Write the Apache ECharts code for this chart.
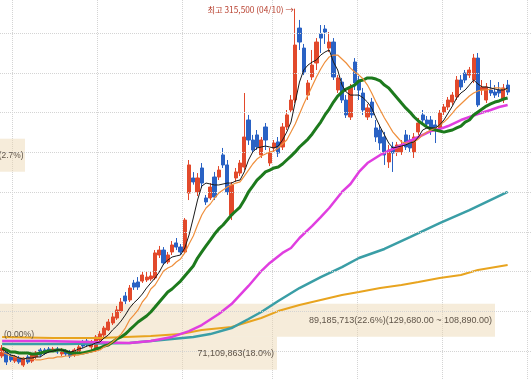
<!DOCTYPE html>
<html><head><meta charset="utf-8">
<script src="https://cdn.jsdelivr.net/npm/echarts/dist/echarts.min.js"></script>
<style>html,body{margin:0;padding:0;background:#fff}#c{width:531px;height:380px}</style>
</head><body><div id="c"></div>
<script>
// ---- data (prices in KRW) ----
const slotCount = 125; // trading-day slots on the x axis (last few empty)
const dayLabels = Array.from({length: slotCount}, (_, i) => 'D' + (i + 1));
const monthStartSlots = [3, 23, 43, 64, 84, 104, 124];
const priceGridLevels = [100000, 125000, 150000, 175000, 200000, 225000, 250000, 275000, 300000];
const visibleMax = 320970, visibleMin = 81684; // price range of the visible window

const opens = [96800,99300,96800,93600,95500,91100,96200,93600,96200,100600,
100600,101200,99900,101200,98100,99900,99300,97400,99300,105600,
106200,102500,100600,106900,110000,113200,117600,120700,125100,134600,
132100,142800,143400,144000,144700,145300,145900,160400,163500,156000,
162300,168000,165400,162300,199400,208900,200100,215200,196300,196300,
209500,209500,223400,217100,185600,208900,212000,215800,245400,232800,
236000,223400,241000,218300,227800,231600,228400,241000,251700,258000,
303300,290700,261100,272500,281300,299600,302700,290700,294500,264300,
269300,258000,247300,281900,270600,262400,247300,256700,240400,239100,
234700,219000,228400,225300,225300,236000,232800,225300,237900,248600,
245400,245400,242300,240400,250400,253600,256700,259900,270600,275000,
273700,270600,284400,264300,258000,264300,263000,264300,258000,267400];
const closes = [101800,93000,94300,96200,93000,94900,93000,97400,98700,97400,
98700,99900,101200,99300,100600,98100,96800,100600,102500,103100,
103700,105600,108800,110700,114400,118200,121400,125800,130800,131400,
139600,140200,140200,147800,146500,147200,161700,163500,155400,160400,
166700,165400,162300,182400,217100,206400,208900,205700,193800,203200,
196900,213900,217100,200100,204500,212700,218300,234700,232800,226500,
228400,232800,232800,224600,230900,224600,241000,248600,258000,292600,
294500,275600,268700,280000,294500,297000,300800,294500,272500,271900,
258000,248600,266200,268700,264300,251700,253000,248600,234700,230900,
223400,226500,224600,229700,229700,228400,227800,234700,243500,245400,
242900,239100,240400,249800,253600,258000,261100,270600,266200,270600,
276900,284400,254900,266200,266200,262400,261100,262400,265600,263000];
const lows = [95500,91100,93000,92400,91800,89900,91800,92400,94900,96200,
97400,98700,99300,98100,96800,96800,95500,96200,98100,101800,
102500,100600,99300,105600,108800,112500,116300,119500,123900,129500,
130800,138400,138400,142800,143400,144000,144700,158500,154100,154700,
160400,163500,160400,161000,195000,204700,197500,202600,191900,195000,
195000,207600,215200,198200,182400,206400,210100,213900,229700,224600,
226500,221500,226500,216400,225300,222100,226500,239100,249800,256100,
289500,273700,258000,270600,276900,287600,293300,288200,270600,262400,
256100,246700,245400,264300,258000,248600,245400,246700,231600,226500,
217100,215200,212700,222700,223400,226500,225300,221500,236000,243000,
241000,236000,230900,237900,248600,251700,254900,258000,264300,268700,
271900,268700,253600,261100,256100,260500,259300,259900,256100,261100];
const highs = [103700,100600,98100,97400,96800,96200,97400,98700,99900,101800,
101800,102500,102500,102500,101800,101200,100600,101800,103700,106900,
107500,106900,110000,112500,115700,120100,123900,128300,133300,137100,
141500,144700,146500,150300,149700,149700,163500,166100,165400,162300,
169200,171100,167300,183700,220200,212600,212000,218300,198200,205700,
212700,216400,227800,220200,206400,215200,220200,262400,248600,236000,
239100,234700,243500,227800,232800,234700,243500,251700,261100,315500,
308400,293300,270600,289500,297000,305200,305200,300800,297000,273700,
271900,261100,268100,284400,273100,265600,255500,259300,245400,242300,
237900,229700,231600,231600,232800,239100,236000,237200,246700,251700,
247900,247900,245400,251700,255500,259900,263000,273100,273700,276900,
278800,287000,287600,270600,268700,270600,267400,269300,268100,270600];

const ma5 = [101200,99300,97400,96800,95500,94900,95500,95500,96200,96200,
98100,99300,99900,100600,100600,99900,99300,99900,101200,101800,
103100,103700,105000,105600,108100,110000,113200,115700,118800,122600,
127000,130200,132700,135800,139600,142800,145900,149700,154700,157200,
159100,159800,160400,164800,173000,183700,195000,203800,205700,205100,
204500,204500,205100,205700,205700,207000,207600,212700,220200,225300,
227800,228400,229000,228400,227800,229000,232800,237800,244100,256700,
269300,276900,280000,281900,283200,286300,288200,289500,281900,276900,
267400,263000,261100,261100,261100,259300,256700,253000,246700,241000,
236000,230900,227800,228400,229000,229700,230900,231600,234700,239100,
240400,240400,240400,242300,245400,249800,254200,259300,262400,264300,
267400,270600,268100,266200,266200,265600,264900,264300,264300,265600];
const ma10 = [99300,98100,96800,96200,95500,95500,94900,94900,94300,94300,
94900,95500,95500,96200,96200,96800,96800,97400,97400,98100,
98700,99300,99900,100600,102500,103700,105600,108100,110600,114400,
119500,122600,125800,130800,134000,139000,141500,145900,150300,152200,
153500,156000,157900,161700,167300,172400,179300,185600,190000,192500,
196300,199400,201300,203200,204500,205700,206400,210100,213900,217700,
220800,222700,224000,225300,225900,227800,230300,232800,237800,242900,
249200,255500,261100,266800,272500,277500,281900,285100,286300,286300,
283800,281300,278100,275600,273700,271200,267400,262400,256700,251700,
246700,242300,237800,234700,231600,230900,230900,231600,233400,236000,
237800,239100,240400,242300,244100,246700,249800,253000,255500,258000,
260500,262400,263700,264300,264300,264900,265600,265600,264900,264300];
const ma20 = [101800,100600,99300,99300,98700,98700,98700,98100,98100,98700,
99300,99900,99900,100600,100600,99900,98700,98700,98700,98700,
99300,99900,101200,101800,103100,103700,105600,107500,108800,110600,
113200,115700,118200,120100,122000,124500,127600,130800,134000,137100,
139000,141500,144000,147200,150300,153500,158500,162300,166100,169800,
173600,176800,179300,182400,185600,188100,190600,195000,200100,203800,
207600,210100,212700,213900,215200,215800,217700,220200,222700,225300,
228400,230900,233400,236600,240400,244100,248600,252300,256700,260500,
263000,264900,266200,267400,270000,270600,271900,271900,271200,270000,
267400,265600,262400,259300,256100,253000,250400,247300,244800,242900,
241000,239700,239100,238500,237800,238500,239100,240400,241600,244100,
245400,248600,250400,252300,254200,255500,256700,257400,258600,259300];
// long averages, read at selected days: [slot index], [price]
const ma60Days = [0,10,20,30,35,40,44,47,51,54,58,61,63,66,68,70,73,75,77,80,82,84,86,89,91,93,96,98,101,103,105,108,110,112,115,117,119];
const ma60Vals = [106200,106200,105600,105000,106200,108800,112500,116300,123200,129500,140900,150300,155400,161700,164800,171100,178700,184300,190000,200100,205100,212700,218300,223400,225900,228400,232200,234700,238500,239700,241600,245400,247300,249200,251700,253600,254900];
const ma120Days = [0,15,30,35,40,45,49,54,58,61,65,70,75,80,84,90,96,103,110,119];
const ma120Vals = [104400,104400,105000,106200,107500,108800,110600,114400,120100,124500,131400,139600,146500,152800,158500,164200,171700,180500,188700,200100];
const ma240Days = [0,12,23,35,42,47,54,61,65,70,75,80,84,89,94,98,103,108,112,119];
const ma240Vals = [108800,108100,108100,109400,110600,113200,115100,120700,125100,128900,132100,135200,137100,139600,141500,143400,145900,147800,150900,154100];

// volume-at-price bands
const bandLow  = [212840, 108890, 88100];
const bandHigh = [233630, 129680, 108890];
const bandText = ['(2.7%)', '89,185,713(22.6%)(129,680.00 ~ 108,890.00)', '71,109,863(18.0%)'];
const zeroBandText = '(0.00%)';
const zeroBandPrice = 110400;
const highIndex = 69, highPrice = 315500;
const highText = '최고 315,500 (04/10) →';

// ---- chart ----
const chart = echarts.init(document.getElementById('c'), null, {renderer: 'canvas'});
const candleData = opens.map((o, i) => [o, closes[i], lows[i], highs[i]]);
const pairs = (d, v) => d.map((x, k) => [x, v[k]]);
const line = (data, color, width, z) => ({
  type: 'line', data, symbol: 'none', silent: true, z,
  lineStyle: {color, width}, itemStyle: {color}
});
const gridLineStyle = {color: '#d4d4d4', type: 'dotted', width: 1};

chart.setOption({
  animation: false,
  backgroundColor: '#ffffff',
  grid: {left: 0, right: 0, top: 0, bottom: 0, containLabel: false},
  xAxis: {
    type: 'category', data: dayLabels, boundaryGap: true,
    axisLine: {show: false}, axisTick: {show: false}, axisLabel: {show: false},
    splitLine: {show: true, interval: (idx) => monthStartSlots.includes(idx), lineStyle: gridLineStyle}
  },
  yAxis: {
    type: 'value', min: visibleMin, max: visibleMax,
    axisLine: {show: false}, axisTick: {show: false}, axisLabel: {show: false},
    splitLine: {show: false}
  },
  series: [
    {
      type: 'line', data: [], z: 1, silent: true, symbol: 'none',
      markLine: {
        silent: true, symbol: ['none', 'none'], label: {show: false},
        lineStyle: gridLineStyle, animation: false,
        data: priceGridLevels.map(v => ({yAxis: v}))
      }
    },
    {
      type: 'candlestick', data: candleData, barWidth: 3.6, z: 3,
      itemStyle: {color: '#e2492b', color0: '#2a62c4', borderColor: '#e2492b', borderColor0: '#2a62c4', borderWidth: 1},
      markPoint: {
        symbol: 'circle', symbolSize: 1, silent: true,
        itemStyle: {color: 'rgba(0,0,0,0)'},
        data: [{coord: [highIndex, highPrice], value: highPrice}],
        label: {show: true, position: 'left', distance: 1, offset: [0, 1.5], formatter: highText,
          color: '#b8402f', fontSize: 8.3, fontFamily: '"Noto Sans CJK KR", sans-serif'}
      }
    },
    line(pairs(ma240Days, ma240Vals), '#e8a41f', 2, 4),
    line(pairs(ma120Days, ma120Vals), '#3a9ea6', 2.5, 4),
    line(pairs(ma60Days, ma60Vals), '#e03ee0', 2.5, 4),
    line(ma20, '#1d7a1d', 3, 5),
    line(ma10, '#ef8f3c', 1.2, 6),
    line(ma5, '#1a1a1a', 1, 7)
  ]
});

// band boxes and labels placed through the y-axis scale
const boxRight = [25, 495, 277];
const textRight = [23.5, 492, 274];
const gfx = [];
bandLow.forEach((lo, k) => {
  const yTop = chart.convertToPixel({yAxisIndex: 0}, bandHigh[k]);
  const yBot = chart.convertToPixel({yAxisIndex: 0}, lo);
  gfx.push({type: 'rect', z: 1, silent: true,
    shape: {x: 0, y: yTop, width: boxRight[k], height: yBot - yTop},
    style: {fill: 'rgba(236,212,172,0.45)'}});
  gfx.push({type: 'text', z: 10, silent: true,
    style: {text: bandText[k], x: textRight[k], y: (yTop + yBot) / 2 + 0.5,
      align: 'right', verticalAlign: 'middle', fill: '#5f5448',
      font: (k === 0 ? '8.4px' : '9px') + ' "Liberation Sans", Arial, sans-serif'}});
});
const yz = chart.convertToPixel({yAxisIndex: 0}, zeroBandPrice);
gfx.push({type: 'text', z: 10, silent: true,
  style: {text: zeroBandText, x: 4, y: yz, align: 'left', verticalAlign: 'middle', fill: '#5f5448',
    font: '8.6px "Liberation Sans", Arial, sans-serif'}});
chart.setOption({graphic: gfx});
</script></body></html>
